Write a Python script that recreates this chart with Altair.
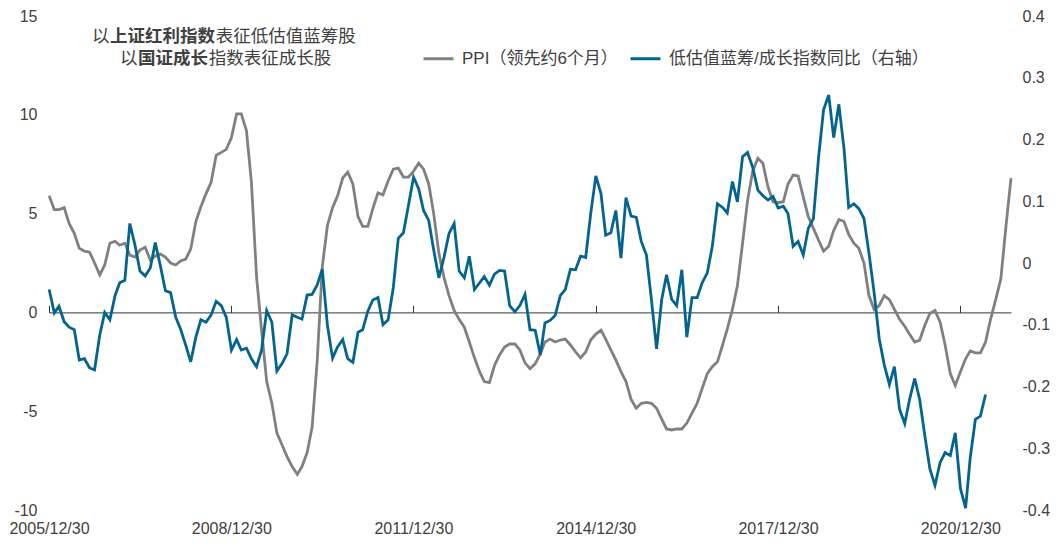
import altair as alt
import pandas as pd

# ---------------- data (monthly) ----------------
ppi = [5.9, 5.2, 5.2, 5.3, 4.5, 4.0, 3.25, 3.1, 3.05, 2.5,
       1.9, 2.4, 3.5, 3.6, 3.4, 3.5, 2.9, 2.8, 3.15, 3.3,
       2.65, 2.85, 2.95, 2.8, 2.5, 2.4, 2.6, 2.7, 3.2, 4.6,
       5.35, 6.0, 6.6, 7.95, 8.1, 8.25, 8.85, 10.05, 10.05, 9.2,
       6.6, 1.8, -0.9, -3.5, -4.6, -6.1, -6.7, -7.3, -7.8, -8.2,
       -7.8, -7.1, -5.8, -2.4, 2.3, 4.4, 5.3, 5.9, 6.8, 7.1,
       6.5, 4.85, 4.35, 4.35, 5.25, 6.05, 5.95, 6.65, 7.25, 7.3,
       6.85, 6.85, 7.15, 7.55, 7.25, 6.5, 5.0, 3.0, 1.8, 0.85,
       0.1, -0.35, -0.75, -1.5, -2.3, -3.0, -3.5, -3.55, -2.7, -2.15,
       -1.75, -1.6, -1.6, -1.9, -2.55, -2.85, -2.6, -2.1, -1.5, -1.35,
       -1.5, -1.4, -1.35, -1.65, -2.0, -2.3, -2.0, -1.4, -1.1, -0.9,
       -1.35, -1.9, -2.4, -3.0, -3.5, -4.4, -4.85, -4.6, -4.55, -4.6,
       -4.85, -5.4, -5.9, -5.95, -5.9, -5.9, -5.6, -5.1, -4.6, -3.85,
       -3.1, -2.75, -2.5, -1.65, -0.85, 0.15, 1.35, 3.5, 5.65, 7.15,
       7.8, 7.55, 6.35, 5.6, 5.55, 5.6, 6.5, 6.95, 6.9, 5.85,
       4.85, 4.25, 3.65, 3.1, 3.35, 4.15, 4.7, 4.6, 3.95, 3.5,
       3.25, 2.5, 0.85, 0.15, 0.35, 0.85, 0.65, 0.15, -0.35, -0.7,
       -1.1, -1.5, -1.4, -0.65, -0.05, 0.1, -0.5, -1.65, -3.1, -3.7,
       -3.0, -2.35, -1.95, -2.05, -2.05, -1.5, -0.35, 0.65, 1.7, 4.3,
       6.8]

ratio = [-0.043, -0.081, -0.070, -0.095, -0.104, -0.108, -0.157, -0.155, -0.170, -0.173,
         -0.117, -0.080, -0.092, -0.053, -0.032, -0.028, 0.064, 0.029, -0.013, -0.021,
         -0.008, 0.033, -0.005, -0.045, -0.048, -0.088, -0.107, -0.133, -0.160, -0.120,
         -0.092, -0.096, -0.084, -0.062, -0.069, -0.088, -0.141, -0.124, -0.141, -0.138,
         -0.155, -0.168, -0.141, -0.077, -0.096, -0.175, -0.163, -0.147, -0.084, -0.088,
         -0.091, -0.052, -0.051, -0.035, -0.010, -0.101, -0.154, -0.136, -0.124, -0.155,
         -0.161, -0.112, -0.108, -0.078, -0.060, -0.056, -0.100, -0.092, -0.040, 0.040,
         0.049, 0.093, 0.139, 0.120, 0.085, 0.069, 0.021, -0.024, 0.008, 0.048,
         0.064, -0.013, -0.024, 0.011, -0.043, -0.032, -0.022, -0.036, -0.018, -0.012,
         -0.013, -0.069, -0.079, -0.069, -0.051, -0.108, -0.109, -0.149, -0.097, -0.093,
         -0.085, -0.053, -0.043, -0.010, -0.011, 0.011, 0.009, 0.080, 0.141, 0.112,
         0.045, 0.049, 0.085, 0.008, 0.106, 0.076, 0.074, 0.035, 0.013, -0.059,
         -0.139, -0.059, -0.019, -0.059, -0.069, -0.011, -0.120, -0.056, -0.056, -0.032,
         -0.016, 0.027, 0.096, 0.090, 0.081, 0.132, 0.099, 0.172, 0.179, 0.155,
         0.118, 0.109, 0.102, 0.108, 0.089, 0.092, 0.080, 0.027, 0.035, 0.013,
         0.056, 0.072, 0.171, 0.248, 0.272, 0.203, 0.257, 0.185, 0.090, 0.096,
         0.088, 0.072, 0.016, -0.048, -0.123, -0.165, -0.197, -0.168, -0.237, -0.260,
         -0.221, -0.187, -0.221, -0.280, -0.333, -0.360, -0.323, -0.307, -0.312, -0.275,
         -0.365, -0.397, -0.315, -0.253, -0.248, -0.213]

series_names = ["PPI（领先约6个月）", "低估值蓝筹/成长指数同比（右轴）"]
series_colors = ["#808080", "#03648f"]
tick_labels = ["2005/12/30", "2008/12/30", "2011/12/30", "2014/12/30", "2017/12/30", "2020/12/30"]
left_ticks = [-10, -5, 0, 5, 10, 15]
right_ticks = [-0.4, -0.3, -0.2, -0.1, 0, 0.1, 0.2, 0.3, 0.4]
note_line1 = [("以", False), ("上证红利指数", True), ("表征低估值蓝筹股", False)]
note_line2 = [("以", False), ("国证成长", True), ("指数表征成长股", False)]

# ---------------- tables ----------------
start = pd.Timestamp("2005-12-31")
dates = [(start + pd.offsets.MonthEnd(i)).strftime("%Y-%m-%d") for i in range(len(ppi))]
df_ppi = pd.DataFrame({"date": dates, "value": ppi, "series": series_names[0]})
df_ratio = pd.DataFrame({"date": dates[:len(ratio)], "value": ratio, "series": series_names[1]})

def to_dt(s):
    y, m, d = [int(v) for v in s.split("/")]
    return alt.DateTime(year=y, month=m, date=d)

tick_dates = [to_dt(s) for s in tick_labels]

# ---------------- layout ----------------
W, H = 962, 494
TXT = "#404040"
LATIN = "Liberation Sans, Noto Sans CJK SC"

xscale = alt.Scale(domain=[alt.DateTime(year=2005, month=12, date=30),
                           alt.DateTime(year=2021, month=10, date=31)])

legend = alt.Legend(orient="none", legendX=373, legendY=26, direction="horizontal",
                    title=None, symbolType="stroke", symbolSize=900, symbolStrokeWidth=3,
                    labelFontSize=17, labelFont=LATIN, labelColor=TXT, labelLimit=500,
                    columnPadding=6, labelOffset=7, padding=0)
color = alt.Color("series:N", scale=alt.Scale(domain=series_names, range=series_colors),
                  legend=legend)

x_bottom = alt.X("date:T", scale=xscale, title=None,
                 axis=alt.Axis(orient="bottom", values=tick_dates,
                               labelExpr="timeFormat(datum.value, '%Y/%m/%d')",
                               domain=False, ticks=False, grid=False, labelFlush=False,
                               labelPadding=10, labelFontSize=16, labelFont=LATIN,
                               labelColor=TXT))
x_zero = alt.X("date:T", scale=xscale, title=None,
               axis=alt.Axis(orient="top", values=tick_dates, labels=False,
                             domain=True, domainColor="#333333", domainWidth=1,
                             ticks=True, tickSize=7, tickColor="#333333", tickWidth=1,
                             grid=False, offset=-(H * 0.6)))

ppi_line = alt.Chart(df_ppi).mark_line(strokeWidth=2.8).encode(
    x=x_bottom,
    y=alt.Y("value:Q", title=None,
            scale=alt.Scale(domain=[-10, 15], nice=False, zero=False),
            axis=alt.Axis(orient="left", values=left_ticks, labelExpr="toString(datum.value)",
                          domain=False, ticks=False, grid=False, labelPadding=12,
                          labelFontSize=16, labelFont=LATIN, labelColor=TXT)),
    color=color,
)

ratio_line = alt.Chart(df_ratio).mark_line(strokeWidth=2.8).encode(
    x=x_zero,
    y=alt.Y("value:Q", title=None,
            scale=alt.Scale(domain=[-0.4, 0.4], nice=False, zero=False),
            axis=alt.Axis(orient="right", values=right_ticks,
                          labelExpr="datum.value == 0 ? '0' : toString(round(datum.value * 10) / 10)",
                          domain=False, ticks=False, grid=False, labelPadding=11,
                          labelFontSize=16, labelFont=LATIN, labelColor=TXT)),
    color=color,
)

FS = 17.5
def note_layers(pieces, x0, y0):
    out = []
    cx = x0
    for txt, bold in pieces:
        out.append(
            alt.Chart(pd.DataFrame({"t": [txt]})).mark_text(
                align="left", baseline="middle", fontSize=FS, font="Noto Sans CJK SC",
                fontWeight="bold" if bold else "normal", color=TXT
            ).encode(x=alt.value(cx), y=alt.value(y0), text="t:N")
        )
        cx += FS * len(txt) + 0.6
    return out

notes = note_layers(note_line1, 43, 21) + note_layers(note_line2, 71, 43)

chart = alt.layer(ppi_line, ratio_line, *notes).resolve_scale(
    y="independent"
).resolve_axis(
    x="independent", y="independent"
).properties(
    width=W, height=H, padding={"left": 0, "top": 0, "right": 0, "bottom": 0},
    background="white"
).configure_view(stroke=None)

chart.save("out.html", embed_options={"renderer": "svg", "actions": False})
